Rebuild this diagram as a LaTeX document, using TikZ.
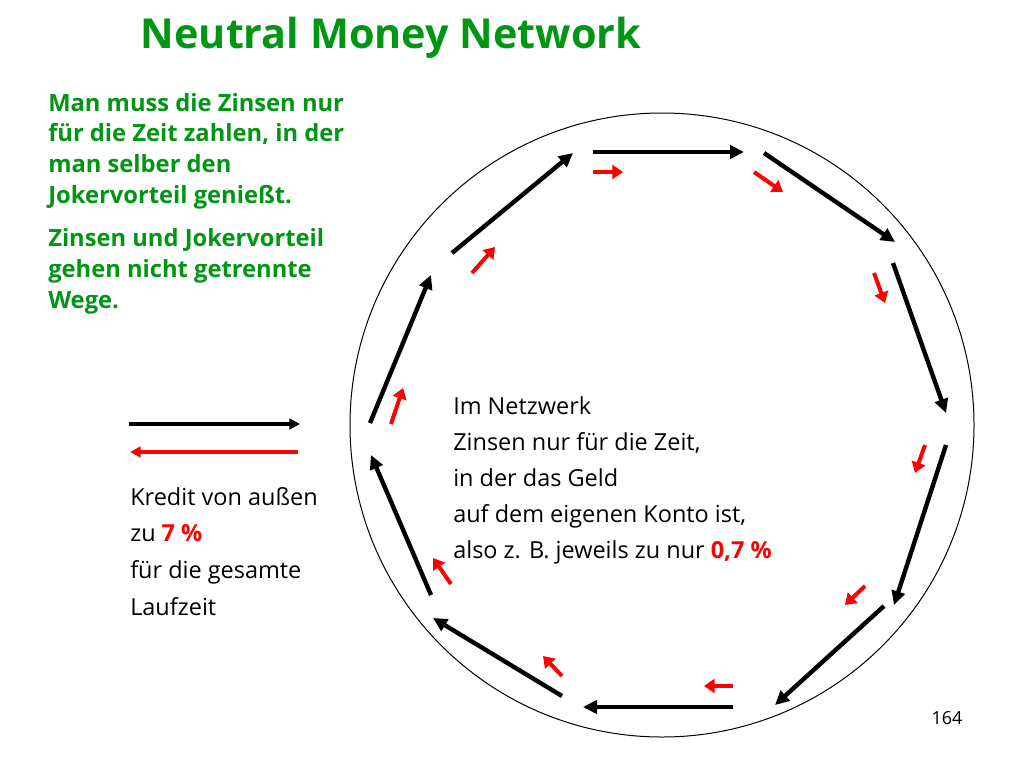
\documentclass[tikz,border=0pt]{standalone}
\usepackage{fontspec}
\setmainfont{Open Sans}
\usetikzlibrary{arrows.meta}
\definecolor{slidegreen}{RGB}{0,150,20}

\begin{document}
\begin{tikzpicture}[x=0.75pt,y=-0.75pt,
    flow/.style={line width=3.3pt,-{Triangle[length=10.5pt,width=10pt]}},
    share/.style={red,line width=3pt,-{Triangle[length=8pt,width=10.5pt]}},
    legend/.style={line width=2.5pt,-{Triangle[length=8pt,width=8pt]}},
    greentext/.style={slidegreen,font=\bfseries\fontsize{17.8}{22.9}\selectfont,
        align=left,anchor=base west,inner sep=0pt},
    plaintext/.style={font=\fontsize{17.6}{27}\selectfont,
        align=left,anchor=base west,inner sep=0pt}]
    \useasboundingbox (0,0) rectangle (1024,768);

    \node[slidegreen,font=\bfseries\fontsize{31}{36}\selectfont,anchor=base,inner sep=0pt]
        (title) at (391,48) {Neutral Money Network};
    \node[greentext] (intro) at (48,203)
        {Man muss die Zinsen nur\\f\"ur die Zeit zahlen, in der\\man selber den\\Jokervorteil genie\ss t.};
    \node[greentext] (note) at (48,308)
        {Zinsen und Jokervorteil\\gehen nicht getrennte\\Wege.};

    % legend
    \coordinate (kin) at (129,424);
    \coordinate (kout) at (300,424);
    \coordinate (zin) at (298,452);
    \coordinate (zout) at (130,452);
    \draw[legend] (kin) -- (kout);
    \draw[legend,red] (zin) -- (zout);
    \node[plaintext,font=\fontsize{17.6}{27.5}\selectfont] (kredit) at (130,615)
        {Kredit von au\ss en\\zu \textcolor{red}{\bfseries 7 \%}\\f\"ur die gesamte\\Laufzeit};

    % network
    \draw[line width=0.75pt] (662,425) circle (312);
    \foreach \i/\a/\b/\c/\d in {1/452/253/573/153, 2/593/152/744/152, 3/764/153/895/242,
        4/893/263/946/413, 5/946/445/894/605, 6/884/606/775/705, 7/733/707/583/707,
        8/562/696/433/618, 9/431/595/371/455, 10/370/423/431/275}{
        \coordinate (s\i) at (\a,\b);
        \coordinate (t\i) at (\c,\d);
        \draw[flow] (s\i) -- (t\i);
    }
    \foreach \i/\a/\b/\c/\d in {1/472/273/495/247, 2/593/172/623/172, 3/754/172/783/192,
        4/874/273/885/303, 5/925/445/915/473, 6/865/586/845/605, 7/733/686/704/686,
        8/562/676/543/656, 9/451/584/433/558, 10/391/424/403/388}{
        \coordinate (p\i) at (\a,\b);
        \coordinate (q\i) at (\c,\d);
        \draw[share] (p\i) -- (q\i);
    }

    \node[plaintext] (netz) at (453,558)
        {Im Netzwerk\\Zinsen nur f\"ur die Zeit,\\in der das Geld\\auf dem eigenen Konto ist,\\also z. B. jeweils zu nur \textcolor{red}{\bfseries 0,7 \%}};

    \node[font=\fontsize{13.5}{16}\selectfont,anchor=base,inner sep=0pt] (page) at (947,724) {164};
\end{tikzpicture}
\end{document}
